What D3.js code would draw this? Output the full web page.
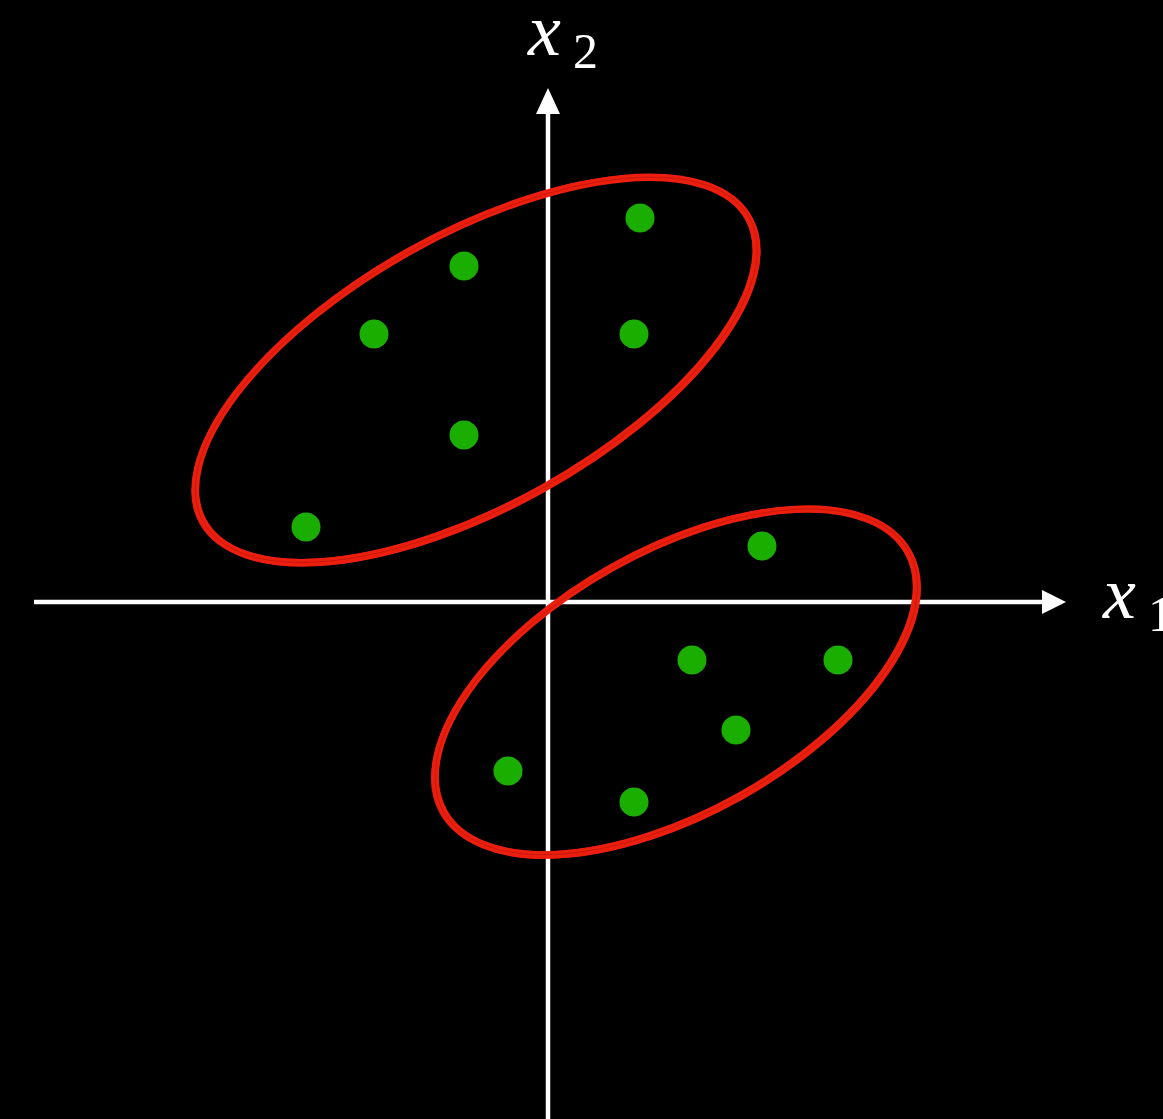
<!DOCTYPE html>
<html><head><meta charset="utf-8">
<script src="https://cdn.jsdelivr.net/npm/d3@7"></script>
<style>html,body{margin:0;padding:0;background:#000;overflow:hidden}</style>
</head><body>
<script>
// Data points (x1, x2)
const pointsX1 = [0.92, -0.84, -1.74, 0.86, -0.84, -2.42, 2.14, 1.44, 2.90, 1.88, -0.40, 0.86];
const pointsX2 = [3.84, 3.36, 2.68, 2.68, 1.67, 0.75, 0.56, -0.58, -0.58, -1.28, -1.69, -2.00];
// Cluster ellipses: centre, semi-axes, rotation (degrees)
const ellCx = [-0.72, 1.28];
const ellCy = [2.32, -0.80];
const ellA = [3.12, 2.66];
const ellB = [1.36, 1.31];
const ellAngle = [29.1, 29.2];
const axisSubs = ["1", "2"];

const W = 1163, H = 1119;
const svg = d3.select("body").append("svg").attr("width", W).attr("height", H)
  .style("background", "#000");

const x = d3.scaleLinear().domain([-5, 5]).range([48, 1048]);
const y = d3.scaleLinear().domain([-5, 5]).range([1102, 102]);

// axes
const axisColor = "#fff";
svg.append("line").attr("x1", x(-5.14)).attr("x2", x(4.97)).attr("y1", y(0)).attr("y2", y(0))
  .attr("stroke", axisColor).attr("stroke-width", 4.5);
svg.append("path").attr("d", `M${x(5.18)},${y(0)} L${x(4.94)},${y(0)-12} L${x(4.94)},${y(0)+12} Z`).attr("fill", axisColor);
svg.append("line").attr("x1", x(0)).attr("x2", x(0)).attr("y1", y(-5.2)).attr("y2", y(4.88))
  .attr("stroke", axisColor).attr("stroke-width", 4.5);
svg.append("path").attr("d", `M${x(0)},${y(5.14)} L${x(0)-12},${y(4.88)} L${x(0)+12},${y(4.88)} Z`).attr("fill", axisColor);

// axis labels
function label(px, py, sub) {
  svg.append("text").attr("x", px).attr("y", py).attr("fill", "#fff")
    .attr("font-family", "'Liberation Serif', serif").attr("font-style", "italic")
    .attr("font-size", 74).text("x");
  svg.append("text").attr("x", px + 45).attr("y", py + 13).attr("fill", "#fff")
    .attr("font-family", "'Liberation Serif', serif")
    .attr("font-size", 50).text(sub);
}
label(x(5.55), y(-0.16), axisSubs[0]);
label(x(-0.20), y(5.47), axisSubs[1]);

// hand-drawn ellipses
const red = "#ec1f0f";
const strokes = [
  {da: 0, db: 0, dx: 0, dy: 0, w: 7.5, o: 1, c: red},
  {da: 0.02, db: 0.015, dx: 0.01, dy: -0.01, w: 2.5, o: 0.95, c: red},
  {da: -0.02, db: -0.015, dx: -0.01, dy: 0.01, w: 2.5, o: 0.95, c: red},
  {da: 0.03, db: 0.01, dx: -0.01, dy: 0.0, w: 1.2, o: 0.9, c: red},
  {da: -0.01, db: 0.03, dx: 0.01, dy: 0.01, w: 1.2, o: 0.9, c: red},
  {da: 0.006, db: -0.004, dx: 0.003, dy: 0.002, w: 0.5, o: 0.3, c: "#000"}
];
const pxPerUnit = x(1) - x(0);
for (let i = 0; i < ellCx.length; i++) {
  strokes.forEach(s => {
    svg.append("ellipse")
      .attr("cx", 0).attr("cy", 0)
      .attr("rx", (ellA[i] + s.da) * pxPerUnit)
      .attr("ry", (ellB[i] + s.db) * pxPerUnit)
      .attr("transform", `translate(${x(ellCx[i] + s.dx)},${y(ellCy[i] + s.dy)}) rotate(${-ellAngle[i]})`)
      .attr("fill", "none").attr("stroke", s.c).attr("stroke-width", s.w).attr("opacity", s.o);
  });
}

// points
svg.selectAll("circle.pt").data(pointsX1.map((v, i) => [v, pointsX2[i]]))
  .enter().append("circle").attr("class", "pt")
  .attr("cx", d => x(d[0])).attr("cy", d => y(d[1])).attr("r", 14.5)
  .attr("fill", "#1aaf00");
</script>
</body></html>
